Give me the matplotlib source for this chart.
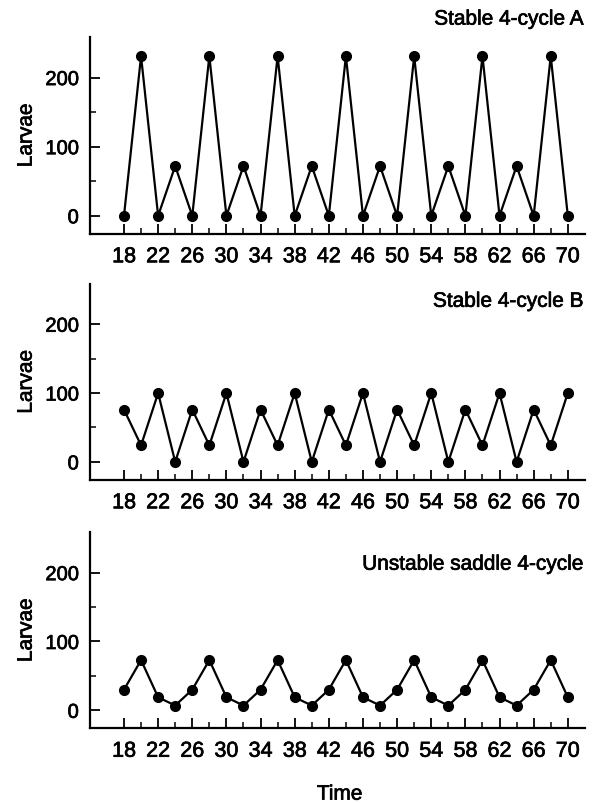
import matplotlib
matplotlib.use("Agg")
from matplotlib import pyplot as plt
from matplotlib import patheffects as pe

plt.rcParams['font.family'] = ['Liberation Sans', 'DejaVu Sans']

time = [18, 20, 22, 24, 26, 28, 30, 32, 34, 36, 38, 40, 42, 44,
        46, 48, 50, 52, 54, 56, 58, 60, 62, 64, 66, 68, 70]

larvae_a = [0, 231, 0, 72, 0, 231, 0, 72, 0, 231, 0, 72, 0, 231,
            0, 72, 0, 231, 0, 72, 0, 231, 0, 72, 0, 231, 0]
larvae_b = [76, 24, 100, 0, 76, 24, 100, 0, 76, 24, 100, 0, 76, 24,
            100, 0, 76, 24, 100, 0, 76, 24, 100, 0, 76, 24, 100]
larvae_c = [30, 73, 19, 7, 30, 73, 19, 7, 30, 73, 19, 7, 30, 73,
            19, 7, 30, 73, 19, 7, 30, 73, 19, 7, 30, 73, 19]

titles = ["Stable 4-cycle A", "Stable 4-cycle B", "Unstable saddle 4-cycle"]
xticks = [18, 22, 26, 30, 34, 38, 42, 46, 50, 54, 58, 62, 66, 70]
xminor = [20, 24, 28, 32, 36, 40, 44, 48, 52, 56, 60, 64, 68]
yticks = [0, 100, 200]
yminor = [50, 150]

# scanned print looks a bit heavier than the regular face
heavy = [pe.withStroke(linewidth=0.5, foreground='black')]

fig = plt.figure(figsize=(5.95, 8.04), dpi=100)

# axes boxes in figure fraction (left, bottom, width, height)
boxes = [(0.151, 0.708, 0.832, 0.245),
         (0.151, 0.402, 0.832, 0.244),
         (0.151, 0.093, 0.832, 0.244)]
title_y = [0.975, 0.624, 0.297]

for box, data, title, ty in zip(boxes, [larvae_a, larvae_b, larvae_c],
                                titles, title_y):
    ax = fig.add_axes(box)
    ax.plot(time, data, color='black', lw=1.6, marker='o', ms=7,
            clip_on=False)
    ax.set_xlim(14, 72)
    ax.set_ylim(-26, 259)
    ax.spines['top'].set_visible(False)
    ax.spines['right'].set_visible(False)
    ax.spines['left'].set_linewidth(1.6)
    ax.spines['bottom'].set_linewidth(1.6)
    ax.set_xticks(xticks)
    ax.set_xticks(xminor, minor=True)
    ax.set_yticks(yticks)
    ax.set_yticks(yminor, minor=True)
    ax.tick_params(axis='both', which='major', direction='in', length=7,
                   width=1.3)
    ax.tick_params(axis='both', which='minor', direction='in', length=4.5,
                   width=1.1)
    ax.tick_params(axis='x', labelsize=15.5, pad=9)
    ax.tick_params(axis='y', labelsize=14.5, pad=8)
    ylab = ax.set_ylabel("Larvae", fontsize=15, labelpad=7)
    ylab.set_path_effects(heavy)
    for lab in ax.get_xticklabels() + ax.get_yticklabels():
        lab.set_path_effects(heavy)
    fig.text(0.981, ty, title, ha='right', va='center', fontsize=15,
             path_effects=heavy)

fig.text(0.571, 0.011, "Time", ha='center', va='center', fontsize=15,
         path_effects=heavy)

fig.savefig("out.png", dpi=100)
